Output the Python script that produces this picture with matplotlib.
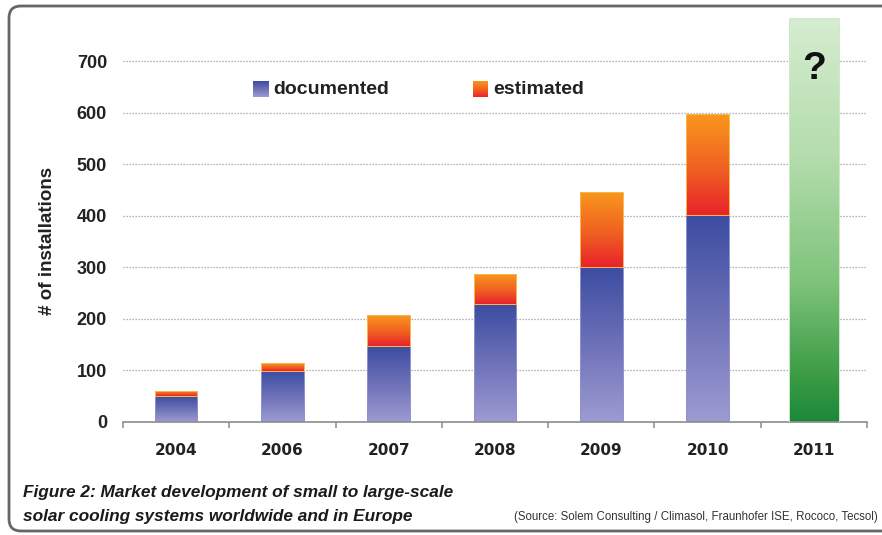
import numpy as np
import matplotlib
matplotlib.use('Agg')
import matplotlib.pyplot as plt
from matplotlib.colors import LinearSegmentedColormap
from matplotlib.patches import FancyBboxPatch

# data
years = ['2004', '2006', '2007', '2008', '2009', '2010', '2011']
documented = [50, 99, 148, 230, 301, 402]
estimated = [10, 15, 60, 58, 145, 196]
outlook_2011 = 784
y_ticks = [0, 100, 200, 300, 400, 500, 600, 700]

doc_cmap = LinearSegmentedColormap.from_list(
    'doc', [(0, '#9d9bd2'), (0.45, '#7275ba'), (1, '#3b4ca1')])
est_cmap = LinearSegmentedColormap.from_list(
    'est', [(0, '#e8232b'), (0.45, '#f05f22'), (1, '#f8981d')])
green_cmap = LinearSegmentedColormap.from_list(
    'grn', [(0, '#1a893a'), (0.12, '#3e9d46'), (0.35, '#7fc47c'),
            (0.65, '#b3dcab'), (1, '#d6edd1')])

grad = np.linspace(0, 1, 256).reshape(-1, 1)


def gradient_bar(ax, x, bottom, height, width, cmap, edge):
    patch = ax.bar(x, height, width, bottom=bottom, color='none',
                   edgecolor=edge, linewidth=0.7, zorder=3)[0]
    im = ax.imshow(grad, cmap=cmap, aspect='auto', origin='lower',
                   extent=[x - width / 2, x + width / 2, bottom, bottom + height],
                   zorder=2, interpolation='bicubic')
    im.set_clip_path(patch)


fig = plt.figure(figsize=(8.82, 5.35), dpi=100)

# overlay in pixel coordinates for frame, legend and caption
ov = fig.add_axes([0, 0, 1, 1], zorder=0)
ov.axis('off')
ov.add_patch(FancyBboxPatch((9, 6), 900, 525, boxstyle='round,pad=0,rounding_size=12',
                            facecolor='none', edgecolor='#666666', linewidth=2))

ax = fig.add_axes([123 / 882, 113 / 535, 744 / 882, 407 / 535], zorder=1)
ax.patch.set_alpha(0)

x = np.arange(len(years))
for i in range(len(documented)):
    gradient_bar(ax, x[i], 0, documented[i], 0.40, doc_cmap, '#8f90cf')
    gradient_bar(ax, x[i], documented[i], estimated[i], 0.40, est_cmap, '#f9b84a')
gradient_bar(ax, x[6], 0, outlook_2011, 0.47, green_cmap, '#cfe8c9')
ax.text(x[6], 686, '?', ha='center', va='center', fontsize=28,
        fontweight='bold', family='Liberation Sans', color='#111111', zorder=4)

ax.set_xlim(-0.5, len(years) - 0.5)
ax.set_ylim(0, 790)

ax.set_yticks(y_ticks)
ax.set_yticklabels([str(v) for v in y_ticks], fontsize=13, fontweight='bold',
                   family='Liberation Sans', color='#222222')
ax.tick_params(axis='y', length=0, pad=11.5)
for v in y_ticks[1:]:
    ax.axhline(v, color='#9a9a9a', linewidth=0.9, linestyle=(0, (1, 1.4)), zorder=1)

ax.set_xticks(x)
ax.set_xticklabels(years, fontsize=11, fontweight='bold', family='DejaVu Sans',
                   color='#222222')
ax.set_xticks(np.arange(-0.5, len(years)), minor=True)
ax.tick_params(axis='x', which='major', length=0, pad=15)
ax.tick_params(axis='x', which='minor', length=4.5, width=1.1, color='#8c8c8c',
               direction='out')

for s in ['top', 'right', 'left']:
    ax.spines[s].set_visible(False)
ax.spines['bottom'].set_color('#8c8c8c')
ax.spines['bottom'].set_linewidth(1.2)

ax.set_ylabel('# of installations', fontsize=13.5, fontweight='bold',
              family='Liberation Sans', color='#222222')
ax.yaxis.set_label_coords((56 - 123) / 744, (535 - 241 - 113) / 407)

# legend
ov.imshow(grad[::-1], cmap=doc_cmap, aspect='auto', extent=[253, 269, 97, 81], zorder=2)
ov.text(273, 89, 'documented', fontsize=14, fontweight='bold', family='Liberation Sans',
        va='center', ha='left', color='#222222')
ov.imshow(grad[::-1], cmap=est_cmap, aspect='auto', extent=[473, 488, 97, 81], zorder=2)
ov.text(493, 89, 'estimated', fontsize=14, fontweight='bold', family='Liberation Sans',
        va='center', ha='left', color='#222222')
ov.set_xlim(0, 882)
ov.set_ylim(535, 0)

# caption
ov.text(23, 492, 'Figure 2: Market development of small to large-scale',
        fontsize=12.4, fontweight='bold', style='italic', family='Liberation Sans',
        va='center', ha='left', color='#1a1a1a')
ov.text(23, 516, 'solar cooling systems worldwide and in Europe',
        fontsize=12.4, fontweight='bold', style='italic', family='Liberation Sans',
        va='center', ha='left', color='#1a1a1a')
ov.text(878, 517, '(Source: Solem Consulting / Climasol, Fraunhofer ISE, Rococo, Tecsol)',
        fontsize=8.3, family='Liberation Sans',
        va='center', ha='right', color='#333333')

fig.savefig('out.png', dpi=100)
